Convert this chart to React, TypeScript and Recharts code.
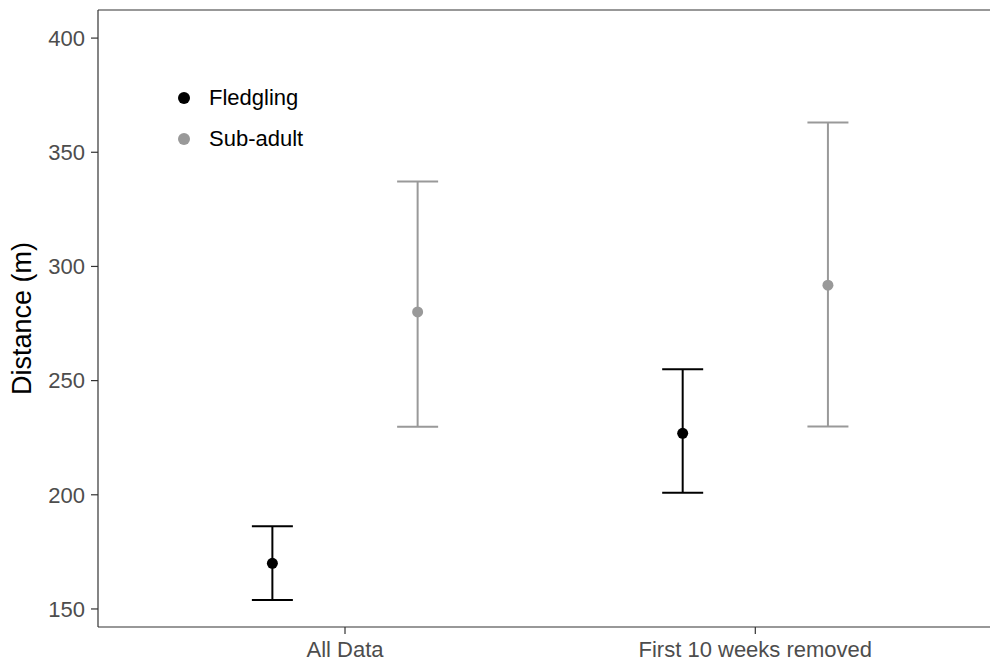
import { ErrorBar, ReferenceLine, Scatter, ScatterChart, XAxis, YAxis } from "recharts";

const categories = ["All Data", "First 10 weeks removed"];
const groups = ["Fledgling", "Sub-adult"];
const groupColors = ["#000000", "#999999"];

// means and interval ends
const fledglingMean = [170.0, 226.9];
const fledglingLower = [153.9, 200.9];
const fledglingUpper = [186.2, 255.0];
const subAdultMean = [280.1, 291.8];
const subAdultLower = [229.8, 229.9];
const subAdultUpper = [337.2, 363.0];

const yTicks = [150, 200, 250, 300, 350, 400];
const Y_DOMAIN: [number, number] = [142.1, 412.3];
const X_DOMAIN: [number, number] = [0.398, 2.572];
const DODGE = 0.177;

const toPoints = (mean: number[], lower: number[], upper: number[], offset: number) =>
  mean.map((m, i) => ({
    x: i + 1 + offset,
    y: m,
    err: [m - lower[i], upper[i] - m],
  }));

const fledglingData = toPoints(fledglingMean, fledglingLower, fledglingUpper, -DODGE);
const subAdultData = toPoints(subAdultMean, subAdultLower, subAdultUpper, DODGE);

const FONT = '"Liberation Sans", Arial, sans-serif';
const AXIS = "#333333";

function YTitle() {
  return (
    <text
      x={22}
      y={318.5}
      transform="rotate(-90 22 318.5)"
      textAnchor="middle"
      dominantBaseline="central"
      fontSize={27}
      fontFamily={FONT}
      fill="#000"
    >
      Distance (m)
    </text>
  );
}

export default function App() {
  return (
    <div style={{ position: "absolute", left: 0, top: 0, width: 990, height: 664, fontFamily: FONT }}>
      <ScatterChart width={990} height={664} margin={{ top: 10, right: 0, bottom: 0, left: 0 }}>
        <XAxis
          type="number"
          dataKey="x"
          domain={X_DOMAIN}
          allowDataOverflow
          ticks={[1, 2]}
          tickFormatter={(v: number) => categories[Math.round(v) - 1] ?? ""}
          height={37}
          tickSize={7}
          tickMargin={7}
          stroke={AXIS}
          strokeWidth={1.2}
          tick={{ fill: "#4d4d4d", fontSize: 22, fontFamily: FONT }}
        />
        <YAxis
          type="number"
          dataKey="y"
          domain={Y_DOMAIN}
          allowDataOverflow
          ticks={yTicks}
          width={98}
          tickSize={7}
          tickMargin={6}
          stroke={AXIS}
          strokeWidth={1.2}
          tick={{ fill: "#4d4d4d", fontSize: 22, fontFamily: FONT }}
          label={<YTitle />}
        />
        <ReferenceLine y={Y_DOMAIN[1]} stroke={AXIS} strokeWidth={1.2} ifOverflow="visible" />
        <Scatter
          name={groups[0]}
          data={fledglingData}
          fill={groupColors[0]}
          isAnimationActive={false}
          shape={(p: any) => <circle cx={p.cx} cy={p.cy} r={5.5} fill={groupColors[0]} />}
        >
          <ErrorBar dataKey="err" direction="y" width={20.5} stroke={groupColors[0]} strokeWidth={2} isAnimationActive={false} />
        </Scatter>
        <Scatter
          name={groups[1]}
          data={subAdultData}
          fill={groupColors[1]}
          isAnimationActive={false}
          shape={(p: any) => <circle cx={p.cx} cy={p.cy} r={5.5} fill={groupColors[1]} />}
        >
          <ErrorBar dataKey="err" direction="y" width={20.5} stroke={groupColors[1]} strokeWidth={2} isAnimationActive={false} />
        </Scatter>
      </ScatterChart>
      {groups.map((g, i) => (
        <div
          key={g}
          style={{
            position: "absolute",
            left: 178,
            top: 84 + i * 40.6,
            height: 28,
            display: "flex",
            alignItems: "center",
            fontSize: 22,
            color: "#000",
            whiteSpace: "nowrap",
          }}
        >
          <span
            style={{
              display: "inline-block",
              width: 12,
              height: 12,
              borderRadius: "50%",
              background: groupColors[i],
              marginRight: 19,
            }}
          />
          {g}
        </div>
      ))}
    </div>
  );
}
